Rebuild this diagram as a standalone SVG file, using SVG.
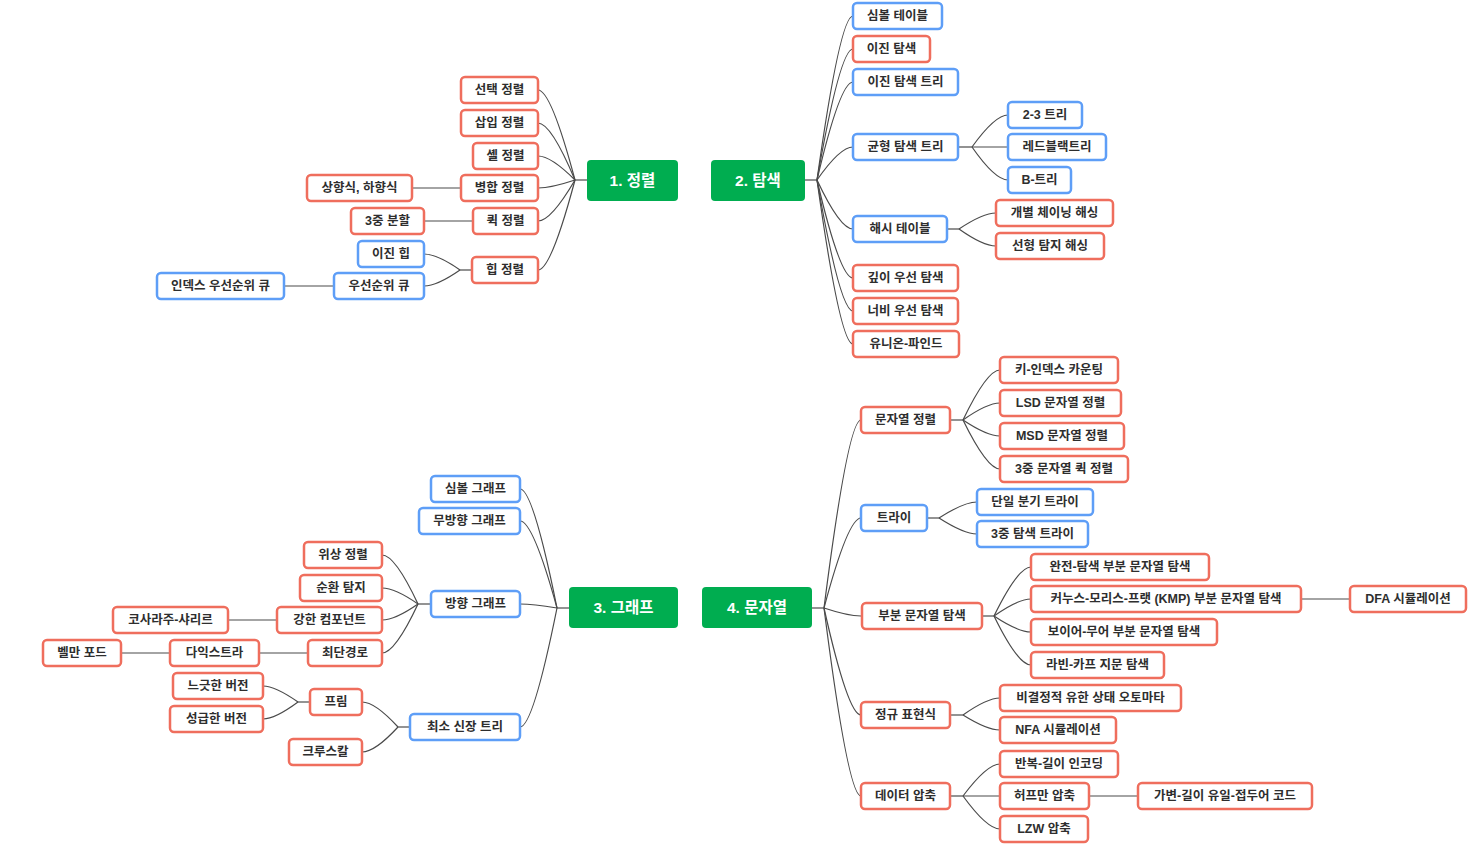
<svg xmlns="http://www.w3.org/2000/svg" width="1478" height="856" viewBox="0 0 1478 856">
<style>
.nd rect{fill:#fff;stroke-width:2.5}
.r rect{stroke:#EF6E5D}
.b rect{stroke:#5E9EF7}
.nd text{font-family:"Liberation Sans","Noto Sans CJK KR",sans-serif;font-weight:700;font-size:12.5px;fill:#2e2e2e;text-anchor:middle}
.root rect{fill:#00AD50;stroke:none}
.root text{font-family:"Liberation Sans","Noto Sans CJK KR",sans-serif;font-weight:700;font-size:15.5px;fill:#fff;text-anchor:middle}
#connectors path{fill:none;stroke:#4a4a4a;stroke-width:1.2}
</style>
<rect width="1478" height="856" fill="#fff"/>
<g id="connectors">
<path d="M587,180H575"/>
<path d="M575,180Q551,90 538,90"/>
<path d="M575,180Q551,123 538,123"/>
<path d="M575,180Q551,156 538,156"/>
<path d="M575,180Q551,188 538,188"/>
<path d="M575,180Q551,221 538,221"/>
<path d="M575,180Q551,270 538,270"/>
<path d="M461,188H412"/>
<path d="M473,221H424"/>
<path d="M472,270H460"/>
<path d="M460,270Q437,254 424,254"/>
<path d="M460,270Q437,286 424,286"/>
<path d="M334,286H284"/>
<path d="M805,180H817"/>
<path d="M817,180Q840,16 853,16"/>
<path d="M817,180Q840,49 853,49"/>
<path d="M817,180Q840,82 853,82"/>
<path d="M817,180Q840,147 853,147"/>
<path d="M817,180Q840,229 853,229"/>
<path d="M817,180Q840,278 853,278"/>
<path d="M817,180Q840,311 853,311"/>
<path d="M817,180Q840,344 853,344"/>
<path d="M958,147H972"/>
<path d="M972,147Q995,115 1008,115"/>
<path d="M972,147Q995,147 1008,147"/>
<path d="M972,147Q995,180 1008,180"/>
<path d="M947,229H959"/>
<path d="M959,229Q983,213 996,213"/>
<path d="M959,229Q983,246 996,246"/>
<path d="M569,608H557"/>
<path d="M557,608Q533,489 520,489"/>
<path d="M557,608Q533,521 520,521"/>
<path d="M557,608Q533,604 520,604"/>
<path d="M557,608Q533,727 520,727"/>
<path d="M431,604H418"/>
<path d="M418,604Q395,555 382,555"/>
<path d="M418,604Q395,588 382,588"/>
<path d="M418,604Q395,620 382,620"/>
<path d="M418,604Q395,653 382,653"/>
<path d="M277,620H228"/>
<path d="M308,653H259"/>
<path d="M170,653H121"/>
<path d="M410,727H398"/>
<path d="M398,727Q375,702 362,702"/>
<path d="M398,727Q375,752 362,752"/>
<path d="M310,702H298"/>
<path d="M298,702Q275,686 263,686"/>
<path d="M298,702Q275,719 263,719"/>
<path d="M812,608H824"/>
<path d="M824,608Q848,420 861,420"/>
<path d="M824,608Q848,518 861,518"/>
<path d="M824,608Q848,616 861,616"/>
<path d="M824,608Q848,715 861,715"/>
<path d="M824,608Q848,796 861,796"/>
<path d="M950,420H963"/>
<path d="M963,420Q987,370 1000,370"/>
<path d="M963,420Q987,403 1000,403"/>
<path d="M963,420Q987,436 1000,436"/>
<path d="M963,420Q987,469 1000,469"/>
<path d="M927,518H939"/>
<path d="M939,518Q964,502 977,502"/>
<path d="M939,518Q964,534 977,534"/>
<path d="M982,616H994"/>
<path d="M994,616Q1018,567 1031,567"/>
<path d="M994,616Q1018,599 1031,599"/>
<path d="M994,616Q1018,632 1031,632"/>
<path d="M994,616Q1018,665 1031,665"/>
<path d="M1301,599H1350"/>
<path d="M950,715H963"/>
<path d="M963,715Q987,698 1000,698"/>
<path d="M963,715Q987,730 1000,730"/>
<path d="M950,796H963"/>
<path d="M963,796Q987,764 1000,764"/>
<path d="M963,796Q987,796 1000,796"/>
<path d="M963,796Q987,829 1000,829"/>
<path d="M1089,796H1138"/>
</g>

<g id="root1" class="root"><rect x="587" y="160" width="91" height="41" rx="4"/><text x="632.5" y="186">1. 정렬</text></g>
<g id="root2" class="root"><rect x="711" y="160" width="94" height="41" rx="4"/><text x="758" y="186">2. 탐색</text></g>
<g id="root3" class="root"><rect x="569" y="587" width="109" height="41" rx="4"/><text x="623.5" y="613">3. 그래프</text></g>
<g id="root4" class="root"><rect x="702" y="587" width="110" height="41" rx="4"/><text x="757" y="613">4. 문자열</text></g>

<g id="s-selection" class="nd r"><rect x="461" y="77" width="77" height="26" rx="4"/><text x="499.5" y="94.4">선택 정렬</text></g>
<g id="s-insertion" class="nd r"><rect x="461" y="110" width="77" height="26" rx="4"/><text x="499.5" y="127.4">삽입 정렬</text></g>
<g id="s-shell" class="nd r"><rect x="473" y="143" width="65" height="26" rx="4"/><text x="505.5" y="160.4">셸 정렬</text></g>
<g id="s-merge" class="nd r"><rect x="461" y="175" width="77" height="26" rx="4"/><text x="499.5" y="192.4">병합 정렬</text></g>
<g id="s-merge-td" class="nd r"><rect x="307" y="175" width="105" height="26" rx="4"/><text x="359.5" y="192.4">상향식, 하향식</text></g>
<g id="s-quick" class="nd r"><rect x="473" y="208" width="65" height="26" rx="4"/><text x="505.5" y="225.4">퀵 정렬</text></g>
<g id="s-quick3" class="nd r"><rect x="351" y="208" width="73" height="26" rx="4"/><text x="387.5" y="225.4">3중 분할</text></g>
<g id="s-heap" class="nd r"><rect x="472" y="257" width="66" height="26" rx="4"/><text x="505" y="274.4">힙 정렬</text></g>
<g id="s-binheap" class="nd b"><rect x="358" y="241" width="66" height="26" rx="4"/><text x="391" y="258.4">이진 힙</text></g>
<g id="s-pq" class="nd b"><rect x="334" y="273" width="90" height="26" rx="4"/><text x="379" y="290.4">우선순위 큐</text></g>
<g id="s-ipq" class="nd b"><rect x="157" y="273" width="127" height="26" rx="4"/><text x="220.5" y="290.4">인덱스 우선순위 큐</text></g>

<g id="t-st" class="nd b"><rect x="853" y="3" width="89" height="26" rx="4"/><text x="897.5" y="20.4">심볼 테이블</text></g>
<g id="t-bs" class="nd r"><rect x="853" y="36" width="77" height="26" rx="4"/><text x="891.5" y="53.4">이진 탐색</text></g>
<g id="t-bst" class="nd b"><rect x="853" y="69" width="105" height="26" rx="4"/><text x="905.5" y="86.4">이진 탐색 트리</text></g>
<g id="t-bal" class="nd b"><rect x="853" y="134" width="105" height="26" rx="4"/><text x="905.5" y="151.4">균형 탐색 트리</text></g>
<g id="t-23" class="nd b"><rect x="1008" y="102" width="74" height="26" rx="4"/><text x="1045" y="119.4">2-3 트리</text></g>
<g id="t-rb" class="nd b"><rect x="1008" y="134" width="98" height="26" rx="4"/><text x="1057" y="151.4">레드블랙트리</text></g>
<g id="t-b" class="nd b"><rect x="1008" y="167" width="63" height="26" rx="4"/><text x="1039.5" y="184.4">B-트리</text></g>
<g id="t-hash" class="nd b"><rect x="853" y="216" width="94" height="26" rx="4"/><text x="900" y="233.4">해시 테이블</text></g>
<g id="t-chain" class="nd r"><rect x="996" y="200" width="117" height="26" rx="4"/><text x="1054.5" y="217.4">개별 체이닝 해싱</text></g>
<g id="t-probe" class="nd r"><rect x="996" y="233" width="108" height="26" rx="4"/><text x="1050" y="250.4">선형 탐지 해싱</text></g>
<g id="t-dfs" class="nd r"><rect x="853" y="265" width="105" height="26" rx="4"/><text x="905.5" y="282.4">깊이 우선 탐색</text></g>
<g id="t-bfs" class="nd r"><rect x="853" y="298" width="105" height="26" rx="4"/><text x="905.5" y="315.4">너비 우선 탐색</text></g>
<g id="t-uf" class="nd r"><rect x="853" y="331" width="106" height="26" rx="4"/><text x="906" y="348.4">유니온-파인드</text></g>

<g id="g-sg" class="nd b"><rect x="431" y="476" width="89" height="26" rx="4"/><text x="475.5" y="493.4">심볼 그래프</text></g>
<g id="g-ug" class="nd b"><rect x="419" y="508" width="101" height="26" rx="4"/><text x="469.5" y="525.4">무방향 그래프</text></g>
<g id="g-dg" class="nd b"><rect x="431" y="591" width="89" height="26" rx="4"/><text x="475.5" y="608.4">방향 그래프</text></g>
<g id="g-topo" class="nd r"><rect x="304" y="542" width="78" height="26" rx="4"/><text x="343" y="559.4">위상 정렬</text></g>
<g id="g-cycle" class="nd r"><rect x="300" y="575" width="82" height="26" rx="4"/><text x="341" y="592.4">순환 탐지</text></g>
<g id="g-scc" class="nd r"><rect x="277" y="607" width="105" height="26" rx="4"/><text x="329.5" y="624.4">강한 컴포넌트</text></g>
<g id="g-ks" class="nd r"><rect x="113" y="607" width="115" height="26" rx="4"/><text x="170.5" y="624.4">코사라주-샤리르</text></g>
<g id="g-sp" class="nd r"><rect x="308" y="640" width="74" height="26" rx="4"/><text x="345" y="657.4">최단경로</text></g>
<g id="g-dij" class="nd r"><rect x="170" y="640" width="89" height="26" rx="4"/><text x="214.5" y="657.4">다익스트라</text></g>
<g id="g-bf" class="nd r"><rect x="43" y="640" width="78" height="26" rx="4"/><text x="82" y="657.4">벨만 포드</text></g>
<g id="g-mst" class="nd b"><rect x="410" y="714" width="110" height="26" rx="4"/><text x="465" y="731.4">최소 신장 트리</text></g>
<g id="g-prim" class="nd r"><rect x="310" y="689" width="52" height="26" rx="4"/><text x="336" y="706.4">프림</text></g>
<g id="g-lazy" class="nd r"><rect x="173" y="673" width="90" height="26" rx="4"/><text x="218" y="690.4">느긋한 버전</text></g>
<g id="g-eager" class="nd r"><rect x="170" y="706" width="93" height="26" rx="4"/><text x="216.5" y="723.4">성급한 버전</text></g>
<g id="g-kruskal" class="nd r"><rect x="289" y="739" width="73" height="26" rx="4"/><text x="325.5" y="756.4">크루스칼</text></g>

<g id="x-sort" class="nd r"><rect x="861" y="407" width="89" height="26" rx="4"/><text x="905.5" y="424.4">문자열 정렬</text></g>
<g id="x-kic" class="nd r"><rect x="1000" y="357" width="118" height="26" rx="4"/><text x="1059" y="374.4">키-인덱스 카운팅</text></g>
<g id="x-lsd" class="nd r"><rect x="1000" y="390" width="121" height="26" rx="4"/><text x="1060.5" y="407.4">LSD 문자열 정렬</text></g>
<g id="x-msd" class="nd r"><rect x="1000" y="423" width="124" height="26" rx="4"/><text x="1062" y="440.4">MSD 문자열 정렬</text></g>
<g id="x-3q" class="nd r"><rect x="1000" y="456" width="128" height="26" rx="4"/><text x="1064" y="473.4">3중 문자열 퀵 정렬</text></g>
<g id="x-trie" class="nd b"><rect x="861" y="505" width="66" height="26" rx="4"/><text x="894" y="522.4">트라이</text></g>
<g id="x-rway" class="nd b"><rect x="977" y="489" width="116" height="26" rx="4"/><text x="1035" y="506.4">단일 분기 트라이</text></g>
<g id="x-tst" class="nd b"><rect x="977" y="521" width="111" height="26" rx="4"/><text x="1032.5" y="538.4">3중 탐색 트라이</text></g>
<g id="x-ss" class="nd r"><rect x="862" y="603" width="120" height="26" rx="4"/><text x="922" y="620.4">부분 문자열 탐색</text></g>
<g id="x-bf" class="nd r"><rect x="1031" y="554" width="178" height="26" rx="4"/><text x="1120" y="571.4">완전-탐색 부분 문자열 탐색</text></g>
<g id="x-kmp" class="nd r"><rect x="1031" y="586" width="270" height="26" rx="4"/><text x="1166" y="603.4">커누스-모리스-프랫 (KMP) 부분 문자열 탐색</text></g>
<g id="x-dfa" class="nd r"><rect x="1350" y="586" width="116" height="26" rx="4"/><text x="1408" y="603.4">DFA 시뮬레이션</text></g>
<g id="x-bm" class="nd r"><rect x="1031" y="619" width="186" height="26" rx="4"/><text x="1124" y="636.4">보이어-무어 부분 문자열 탐색</text></g>
<g id="x-rk" class="nd r"><rect x="1031" y="652" width="133" height="26" rx="4"/><text x="1097.5" y="669.4">라빈-카프 지문 탐색</text></g>
<g id="x-re" class="nd r"><rect x="861" y="702" width="89" height="26" rx="4"/><text x="905.5" y="719.4">정규 표현식</text></g>
<g id="x-nfa" class="nd r"><rect x="1000" y="685" width="181" height="26" rx="4"/><text x="1090.5" y="702.4">비결정적 유한 상태 오토마타</text></g>
<g id="x-nfasim" class="nd r"><rect x="1000" y="717" width="116" height="26" rx="4"/><text x="1058" y="734.4">NFA 시뮬레이션</text></g>
<g id="x-comp" class="nd r"><rect x="861" y="783" width="89" height="26" rx="4"/><text x="905.5" y="800.4">데이터 압축</text></g>
<g id="x-rle" class="nd r"><rect x="1000" y="751" width="118" height="26" rx="4"/><text x="1059" y="768.4">반복-길이 인코딩</text></g>
<g id="x-huff" class="nd r"><rect x="1000" y="783" width="89" height="26" rx="4"/><text x="1044.5" y="800.4">허프만 압축</text></g>
<g id="x-prefix" class="nd r"><rect x="1138" y="783" width="174" height="26" rx="4"/><text x="1225" y="800.4">가변-길이 유일-접두어 코드</text></g>
<g id="x-lzw" class="nd r"><rect x="1000" y="816" width="88" height="26" rx="4"/><text x="1044" y="833.4">LZW 압축</text></g>
</svg>
